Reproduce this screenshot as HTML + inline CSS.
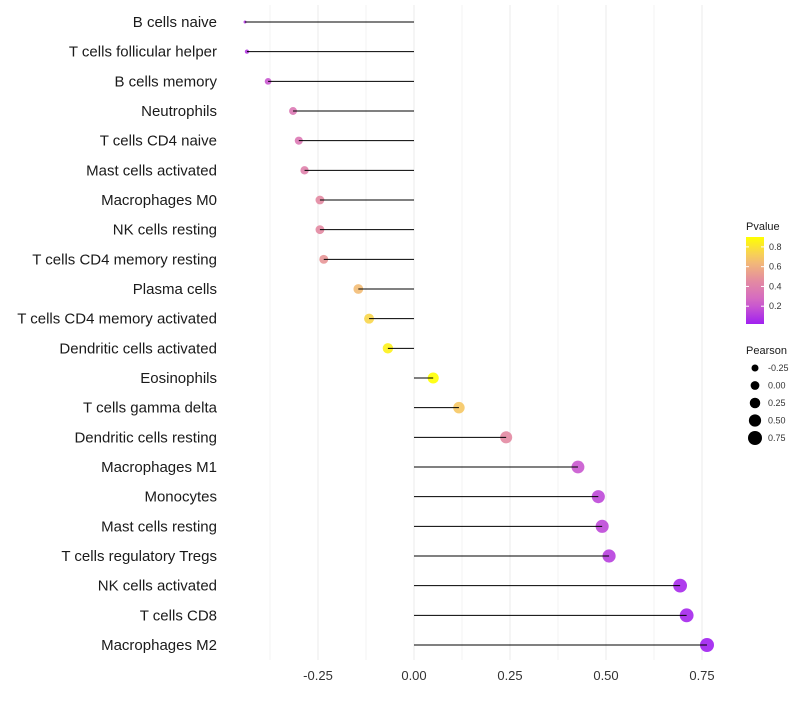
<!DOCTYPE html>
<html><head><meta charset="utf-8"><style>
body{margin:0;background:#fff;font-family:"Liberation Sans",sans-serif}
</style></head><body>
<svg id="c" width="800" height="700" xmlns="http://www.w3.org/2000/svg"></svg>
<script>
const categories=["B cells naive","T cells follicular helper","B cells memory","Neutrophils","T cells CD4 naive","Mast cells activated","Macrophages M0","NK cells resting","T cells CD4 memory resting","Plasma cells","T cells CD4 memory activated","Dendritic cells activated","Eosinophils","T cells gamma delta","Dendritic cells resting","Macrophages M1","Monocytes","Mast cells resting","T cells regulatory  Tregs ","NK cells activated","T cells CD8","Macrophages M2"];
const pearson=[-0.44,-0.435,-0.38,-0.315,-0.30,-0.285,-0.245,-0.245,-0.235,-0.145,-0.117,-0.068,0.05,0.117,0.24,0.427,0.48,0.49,0.508,0.693,0.71,0.763];
const pvalue=[0.1,0.1,0.2,0.35,0.35,0.4,0.45,0.45,0.5,0.65,0.75,0.85,0.9,0.7,0.45,0.2,0.15,0.15,0.12,0.05,0.04,0.02];
const xTicks=[-0.25,0,0.25,0.5,0.75];
const xTickLabels=["-0.25","0.00","0.25","0.50","0.75"];
const pTicks=[0.2,0.4,0.6,0.8];
const sizeKeys=[-0.25,0,0.25,0.5,0.75];
const sizeKeyLabels=["-0.25","0.00","0.25","0.50","0.75"];
const NS="http://www.w3.org/2000/svg",svg=document.getElementById('c');
function mk(t,a,p){const e=document.createElementNS(NS,t);for(const k in a)e.setAttribute(k,a[k]);(p||svg).appendChild(e);return e;}
const x=v=>414+v*384;
const y=i=>22+i*(623/21);
const pMin=0.02,pMax=0.9;
function col(p){let t=Math.max(0,Math.min(1,(p-pMin)/(pMax-pMin)));
const s=[[160,32,240],[210,100,200],[228,140,160],[245,195,110],[255,255,0]];
const f=t*4,i=Math.min(3,Math.floor(f)),u=f-i;const c=s[i].map((v,k)=>Math.round(v+(s[i+1][k]-v)*u));return `rgb(${c})`;}
const r=v=>{const d=Math.max(0,(v+0.44)/1.2);return Math.sqrt(2.25+46.75*Math.pow(d,0.55));};
const rKey=v=>3.5+(v+0.25)*3.5;
for(let g=-0.375;g<=0.76;g+=0.125){const l=mk('line',{x1:x(g),x2:x(g),y1:5,y2:660,stroke:'#ebebeb','stroke-width':Math.abs((g*4)%1)<0.01?1:0.6});}
xTicks.forEach((t,i)=>{const e=mk('text',{x:x(t),y:680,'text-anchor':'middle','font-size':13,fill:'#333'});e.textContent=xTickLabels[i];});
categories.forEach((c,i)=>{
const t=mk('text',{x:217,y:y(i)+5,'text-anchor':'end','font-size':15,fill:'#1a1a1a'});t.textContent=c;
const p=mk('circle',{cx:x(pearson[i]),cy:y(i),r:r(pearson[i]),fill:col(pvalue[i]),'fill-opacity':0.9});
const l=mk('line',{x1:x(0),x2:x(pearson[i]),y1:y(i),y2:y(i),stroke:'#000','stroke-width':1});
});
let e=mk('text',{x:746,y:230,'font-size':11,fill:'#1a1a1a'});e.textContent='Pvalue';
const defs=mk('defs',{});const lg=mk('linearGradient',{id:'g',x1:0,y1:1,x2:0,y2:0},defs);
for(let k=0;k<=10;k++)mk('stop',{offset:k/10,'stop-color':col(pMin+(pMax-pMin)*k/10)},lg);
e=mk('rect',{x:746,y:237,width:18,height:87,fill:'url(#g)'});
const py=p=>324-(p-pMin)/(pMax-pMin)*87;
pTicks.forEach(p=>{const t=mk('text',{x:769,y:py(p)+3,'font-size':9,fill:'#333'});t.textContent=p.toFixed(1);
mk('line',{x1:746,x2:749,y1:py(p),y2:py(p),stroke:'#fff'});mk('line',{x1:761,x2:764,y1:py(p),y2:py(p),stroke:'#fff'});});
e=mk('text',{x:746,y:354,'font-size':11,fill:'#1a1a1a'});e.textContent='Pearson';
sizeKeys.forEach((v,i)=>{const cy=368+i*17.5;const c=mk('circle',{cx:755,cy:cy,r:rKey(v),fill:'#000'});
const t=mk('text',{x:768,y:cy+3,'font-size':9,fill:'#333'});t.textContent=sizeKeyLabels[i];});
</script>
</body></html>
